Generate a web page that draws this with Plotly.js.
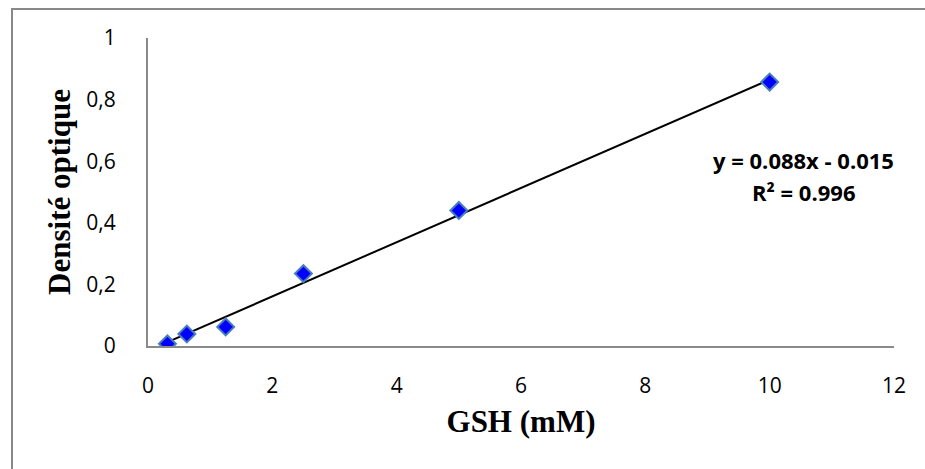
<!DOCTYPE html>
<html>
<head>
<meta charset="utf-8">
<script src="https://cdn.plot.ly/plotly-3.0.1.min.js"></script>
<style>html,body{margin:0;padding:0;background:#fff;}#chart{width:925px;height:469px;}</style>
</head>
<body>
<div id="chart"></div>
<script>
// Data
const gshConc = [0.3125, 0.625, 1.25, 2.5, 5, 10];
const densiteOptique = [0.007, 0.039, 0.062, 0.235, 0.44, 0.857];
const slope = 0.088;
const intercept = -0.015;
const trendX = [0.3125, 10];
const xTicks = [0, 2, 4, 6, 8, 10, 12];
const yTicks = [0, 0.2, 0.4, 0.6, 0.8, 1];
const yTickLabels = ['0', '0,2', '0,4', '0,6', '0,8', '1'];

const trendY = trendX.map(x => slope * x + intercept);

const traces = [
  {
    x: trendX, y: trendY, mode: 'lines', type: 'scatter',
    line: {color: '#000000', width: 2}, hoverinfo: 'skip', showlegend: false
  },
  {
    x: gshConc, y: densiteOptique, mode: 'markers', type: 'scatter',
    marker: {symbol: 'diamond', size: 13, color: '#0000ff', line: {color: '#4a7ebb', width: 2}},
    showlegend: false
  }
];

const tickFont = {family: 'Open Sans, Lato, sans-serif', size: 21, color: '#000'};
const titleFont = {family: 'Liberation Serif, Times New Roman, serif', size: 31, color: '#000', weight: 'bold'};
const annFont = {family: 'Open Sans, Lato, sans-serif', size: 22, color: '#000', weight: 'bold'};
const layout = {
  width: 925, height: 469,
  margin: {l: 148, r: 31, t: 38, b: 123, pad: 0},
  paper_bgcolor: '#fff', plot_bgcolor: '#fff',
  showlegend: false,
  xaxis: {
    range: [0, 12], tickvals: xTicks, ticktext: xTicks.map(String),
    showgrid: false, zeroline: false, showline: true, linecolor: '#898989', linewidth: 2,
    ticks: '', ticklabelstandoff: 20, tickfont: tickFont,
    title: {text: 'GSH (mM)', font: titleFont, standoff: 12}
  },
  yaxis: {
    range: [0, 1], tickvals: yTicks, ticktext: yTickLabels,
    showgrid: false, zeroline: false, showline: true, linecolor: '#898989', linewidth: 2,
    ticks: '', ticklabelstandoff: 26, tickfont: tickFont,
    title: {text: 'Densité optique', font: titleFont, standoff: 6}
  },
  annotations: [
    {xref: 'x', yref: 'y', x: 10.54, y: 0.604, text: 'y = 0.088x - 0.015', showarrow: false, font: annFont},
    {xref: 'x', yref: 'y', x: 10.54, y: 0.5, text: 'R² = 0.996', showarrow: false, font: annFont}
  ],
  shapes: [
    {type: 'rect', xref: 'paper', yref: 'paper', x0: -0.1823, x1: 1.5, y0: -1, y1: 1.094,
     line: {color: '#898989', width: 2}, fillcolor: 'rgba(0,0,0,0)', layer: 'below'}
  ]
};

Plotly.newPlot('chart', traces, layout, {displayModeBar: false, staticPlot: true});
</script>
</body>
</html>
